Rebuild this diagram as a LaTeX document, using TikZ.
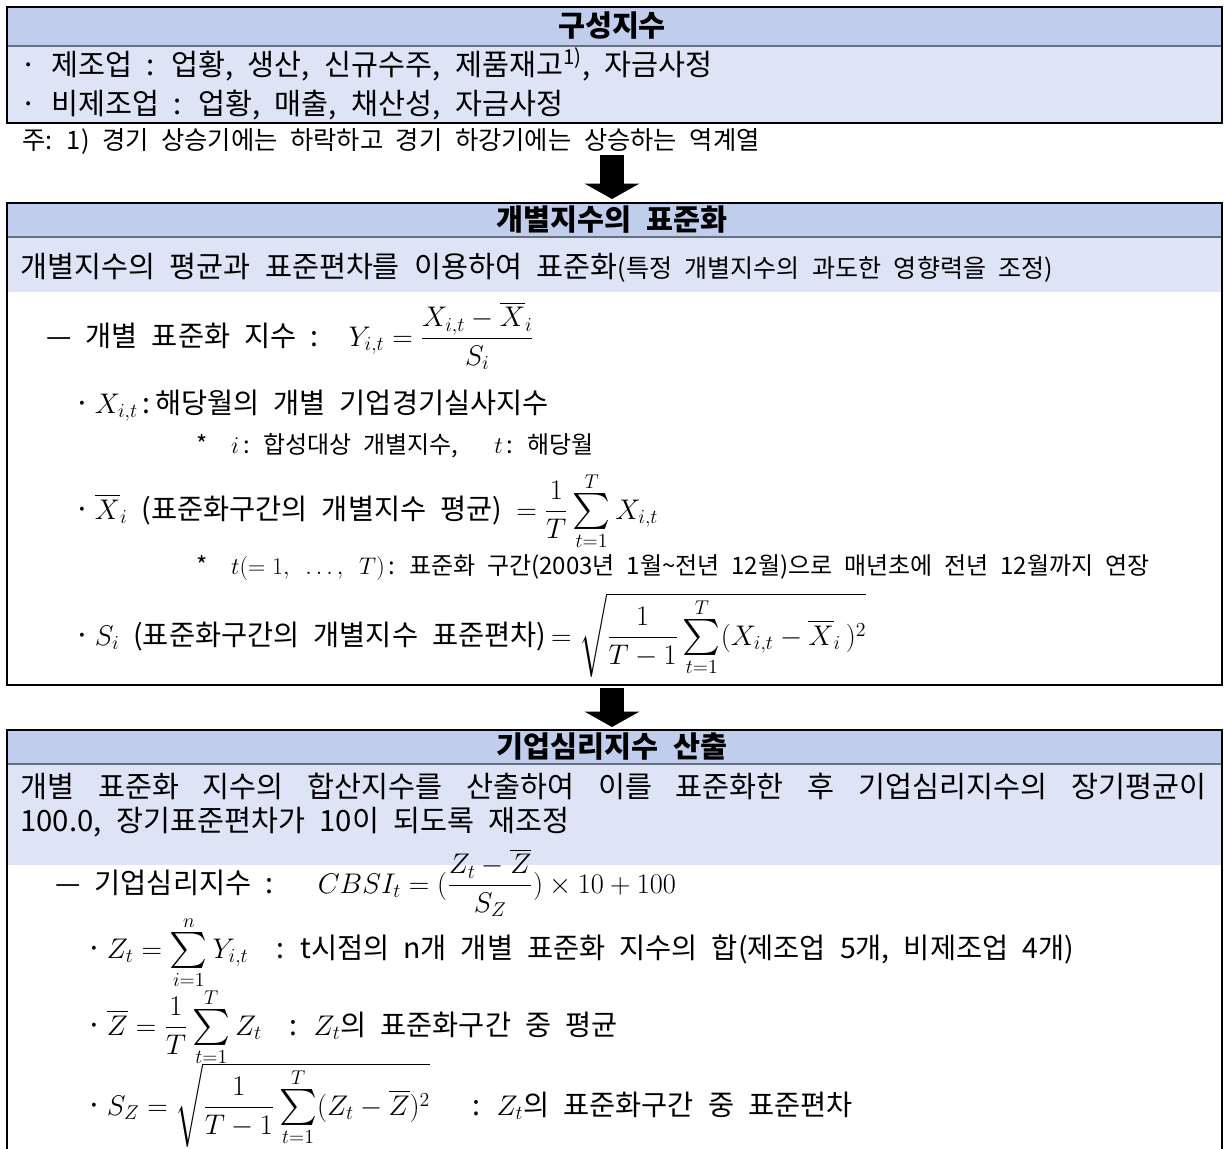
\RequirePackage{fix-cm}
\documentclass[tikz,border=0pt]{standalone}
\usepackage{amsmath}
\usepackage{fontspec}
\setmainfont{Noto Sans CJK KR}[WordSpace=2.2]
\usetikzlibrary{arrows.meta}
\definecolor{hdrblue}{RGB}{192,205,236}
\definecolor{bandblue}{RGB}{221,228,246}
\definecolor{rulegray}{RGB}{105,112,128}
\newcommand{\midsum}{\mathop{\vcenter{\hbox{\scalebox{1.3}{$\textstyle\sum$}}}}\limits}

\begin{document}
\begin{tikzpicture}[x=0.75pt,y=0.75pt,yscale=-1,xscale=1,
  boxtitle/.style={font=\fontsize{22}{26}\selectfont\bfseries, anchor=center, inner sep=0pt},
  bandtext/.style={font=\fontsize{22}{26}\selectfont, anchor=base west, inner sep=0pt},
  bodytext/.style={font=\fontsize{21.3}{25}\selectfont, anchor=base west, inner sep=0pt},
  subtext/.style={font=\fontsize{18}{21}\selectfont, anchor=base west, inner sep=0pt},
  frame/.style={draw=black, line width=1.8pt},
  divider/.style={draw=rulegray, line width=0.9pt},
  blockarrow/.style={line width=18pt, -{Triangle[length=11.5pt,width=40.5pt]}}]
\clip (0,0) rectangle (1225,1149);

%Shape: Box 1 [구성지수]
\fill[hdrblue] (7,7) rectangle (1222,46);
\fill[bandblue] (7,46) rectangle (1222,123);
\draw[divider] (7,46) -- (1222,46);
\draw[frame] (7,7) rectangle (1222,123);

%Shape: Box 2 [표준화]
\fill[hdrblue] (7,203) rectangle (1222,237);
\fill[bandblue] (7,237) rectangle (1222,292);
\draw[divider] (7,237) -- (1222,237);
\draw[frame] (7,203) rectangle (1222,685);

%Shape: Box 3 [산출], open at the bottom
\fill[hdrblue] (7,730) rectangle (1222,764);
\fill[bandblue] (7,764) rectangle (1222,865);
\draw[divider] (7,764) -- (1222,764);
\draw[frame] (7,1160) -- (7,730) -- (1222,730) -- (1222,1160);

%Arrows
\coordinate (note-s) at (612,155);
\coordinate (box2-n) at (612,199);
\coordinate (box2-s) at (612,688);
\coordinate (box3-n) at (612,727);
\draw[blockarrow] (note-s) -- (box2-n);
\draw[blockarrow] (box2-s) -- (box3-n);

% Text Node
\node[boxtitle] (title1) at (612,26) {구성지수};
\node[bandtext] (mfg) at (20,75) {· 제조업 : 업황, 생산, 신규수주, 제품재고\textsuperscript{1)}, 자금사정};
\node[bandtext] (nonmfg) at (20,114) {· 비제조업 : 업황, 매출, 채산성, 자금사정};
\node[subtext, font=\fontsize{19}{22}\selectfont] (note) at (22,149) {주: 1) 경기 상승기에는 하락하고 경기 하강기에는 상승하는 역계열};

% Text Node
\node[boxtitle] (title2) at (612,220) {개별지수의 표준화};
\node[bandtext] (band2) at (20,277) {개별지수의 평균과 표준편차를 이용하여 표준화{\fontsize{18.8}{20}\selectfont(특정 개별지수의 과도한 영향력을 조정)}};
\node[bodytext] (yit) at (46,346) {— 개별 표준화 지수 : \ $Y_{i,t}=\dfrac{X_{i,t}-\overline{X}_i}{S_i}$};
\node[bodytext] (xit) at (74,413) {·\,$X_{i,t}$\,:\,해당월의 개별 기업경기실사지수};
\node[subtext] (idx) at (196,453) {* \ $i$\,: 합성대상 개별지수, \quad $t$\,: 해당월};
\node[bodytext] (xbar) at (74,519) {·\,$\overline{X}_i$ (표준화구간의 개별지수 평균) $=\dfrac{1}{T}\midsum_{t=1}^{T}X_{i,t}$};
\node[subtext] (tint) at (196,574) {* \ $t(=1,\ \dots,\ T)$\,: 표준화 구간(2003년 1월\textasciitilde 전년 12월)으로 매년초에 전년 12월까지 연장};
\node[bodytext] (si) at (74,645) {·\,$S_i$ (표준화구간의 개별지수 표준편차)$\,=\sqrt{\dfrac{1}{T-1}\midsum_{t=1}^{T}(X_{i,t}-\overline{X}_i\,)^2}$};

% Text Node
\node[boxtitle] (title3) at (612,747) {기업심리지수 산출};
\node[bandtext] (band3a) at (20,797) {\makebox[889.5pt][s]{개별 표준화 지수의 합산지수를 산출하여 이를 표준화한 후 기업심리지수의 장기평균이}};
\node[bandtext] (band3b) at (20,831) {100.0, 장기표준편차가 10이 되도록 재조정};
\node[bodytext] (cbsi) at (55,893) {— 기업심리지수 : \quad $CBSI_t=(\dfrac{Z_t-\overline{Z}}{S_Z})\times 10+100$};
\node[bodytext] (zt) at (86,958) {·\,$Z_t=\midsum_{i=1}^{n}Y_{i,t}$ \ : t시점의 n개 개별 표준화 지수의 합(제조업 5개, 비제조업 4개)};
\node[bodytext] (zbar) at (86,1035) {·\,$\overline{Z}=\dfrac{1}{T}\midsum_{t=1}^{T}Z_t$ \ : $Z_t$의 표준화구간 중 평균};
\node[bodytext] (sz) at (86,1115) {·\,$S_Z=\sqrt{\dfrac{1}{T-1}\midsum_{t=1}^{T}(Z_t-\overline{Z})^2}$ \quad : $Z_t$의 표준화구간 중 표준편차};

\end{tikzpicture}
\end{document}
